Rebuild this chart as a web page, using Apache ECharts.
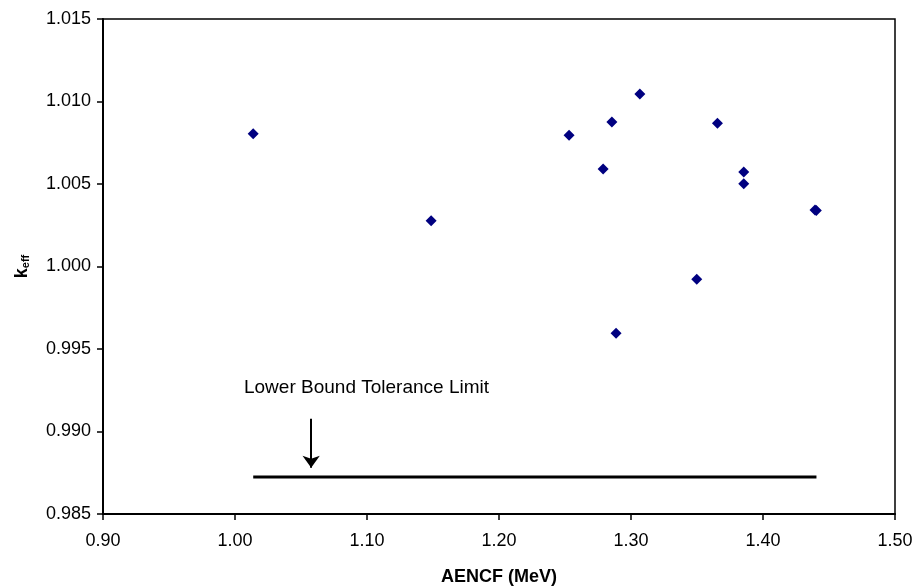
<!DOCTYPE html>
<html>
<head>
<meta charset="utf-8">
<script src="https://cdn.jsdelivr.net/npm/echarts@6/dist/echarts.min.js"></script>
<style>
html,body{margin:0;padding:0;background:#fff;}
#chart{width:917px;height:588px;}
</style>
</head>
<body>
<div id="chart"></div>
<script>
// AENCF (MeV) values of the benchmark experiments
const aencf = [1.0138, 1.1486, 1.2531, 1.2789, 1.2855, 1.2887, 1.3067, 1.3498, 1.3655, 1.3854, 1.3854, 1.4394, 1.4404];
// k-eff values
const keff = [1.00805, 1.00278, 1.00796, 1.00591, 1.00876, 0.99596, 1.01046, 0.99923, 1.00868, 1.00573, 1.00502, 1.00343, 1.00340];
// Lower bound tolerance limit
const lowerBoundValue = 0.98724;
const lowerBoundRange = [1.0138, 1.4405];
// Annotation
const annotationText = 'Lower Bound Tolerance Limit';
const annotationPos = [1.0068, 0.99265];
const arrowX = 1.0577;
const arrowY = [0.99077, 0.98780];
// Axes
const xTicks = { min: 0.90, max: 1.50, interval: 0.10 };
const yTicks = { min: 0.985, max: 1.015, interval: 0.005 };
const xTitle = 'AENCF (MeV)';

const font = '"Liberation Sans", Arial, sans-serif';
const chart = echarts.init(document.getElementById('chart'), null, {renderer: 'canvas'});
chart.setOption({
  animation: false,
  backgroundColor: '#ffffff',
  grid: { left: 103, right: 22, top: 19, bottom: 74, outerBoundsMode: 'none', containLabel: false,
          show: true, borderColor: '#000', borderWidth: 1.5, backgroundColor: 'transparent' },
  xAxis: {
    type: 'value', min: xTicks.min, max: xTicks.max, interval: xTicks.interval,
    axisLine: { show: true, onZero: false, lineStyle: { color: '#000', width: 2 } },
    axisTick: { show: true, inside: false, length: 6, lineStyle: { color: '#000', width: 1.5 } },
    axisLabel: { color: '#000', fontFamily: font, fontSize: 18, margin: 18, formatter: v => v.toFixed(2) },
    splitLine: { show: false },
    name: xTitle, nameLocation: 'middle', nameGap: 54,
    nameTextStyle: { color: '#000', fontFamily: font, fontSize: 18, fontWeight: 'bold' }
  },
  yAxis: {
    type: 'value', min: yTicks.min, max: yTicks.max, interval: yTicks.interval,
    axisLine: { show: true, onZero: false, lineStyle: { color: '#000', width: 2 } },
    axisTick: { show: true, inside: false, length: 6, lineStyle: { color: '#000', width: 1.5 } },
    axisLabel: { color: '#000', fontFamily: font, fontSize: 18, margin: 12, formatter: v => v.toFixed(3) },
    splitLine: { show: false },
    name: '{k|k}{s|eff}', nameLocation: 'middle', nameGap: 72,
    nameTextStyle: {
      color: '#000', fontFamily: font, fontWeight: 'bold',
      rich: {
        k: { fontSize: 18, fontWeight: 'bold', fontFamily: font, color: '#000', lineHeight: 22, verticalAlign: 'bottom' },
        s: { fontSize: 11, fontWeight: 'bold', fontFamily: font, color: '#000', lineHeight: 12, verticalAlign: 'bottom' }
      }
    }
  },
  series: [
    {
      type: 'line',
      data: [[lowerBoundRange[0], lowerBoundValue], [lowerBoundRange[1], lowerBoundValue]],
      showSymbol: false, symbol: 'none',
      lineStyle: { color: '#000', width: 3 },
      silent: true, z: 2,
      markLine: {
        silent: true, animation: false,
        symbol: ['none', 'arrow'], symbolSize: [13, 12],
        lineStyle: { color: '#000', width: 2, type: 'solid' },
        label: { show: false },
        data: [[{ coord: [arrowX, arrowY[0]] }, { coord: [arrowX, arrowY[1]] }]]
      }
    },
    {
      type: 'scatter',
      data: aencf.map((x, i) => [x, keff[i]]),
      symbol: 'diamond', symbolSize: 11,
      itemStyle: { color: '#000080', opacity: 1 },
      z: 3
    },
    {
      type: 'scatter',
      data: [annotationPos],
      symbolSize: 0,
      silent: true,
      label: { show: true, position: 'right', distance: 0, formatter: annotationText, color: '#000', opacity: 1, fontFamily: font, fontSize: 19 },
      itemStyle: { color: '#000', opacity: 1 }
    }
  ]
});
</script>
</body>
</html>
